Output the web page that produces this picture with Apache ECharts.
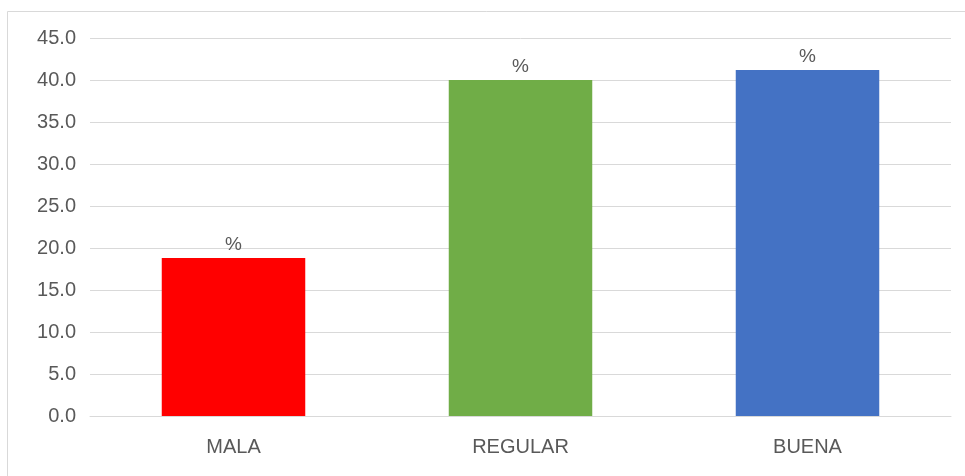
<!DOCTYPE html>
<html>
<head>
<meta charset="utf-8">
<script src="https://cdn.jsdelivr.net/npm/echarts@6/dist/echarts.min.js"></script>
<style>
html,body{margin:0;padding:0;background:#fff;}
#c{width:965px;height:476px;}
</style>
</head>
<body>
<div id="c"></div>
<script>
var categories = ['MALA', 'REGULAR', 'BUENA'];
var values = [18.8, 40.0, 41.2];
var barColors = ['#FF0000', '#70AD47', '#4472C4'];
var barLabel = '%';

var chart = echarts.init(document.getElementById('c'), null, {renderer: 'canvas'});
var font = '"Liberation Sans", "DejaVu Sans", sans-serif';
chart.setOption({
  animation: false,
  backgroundColor: '#ffffff',
  graphic: [{
    type: 'rect',
    shape: {x: 7.5, y: 11.5, width: 970, height: 480},
    style: {fill: 'none', stroke: '#d9d9d9', lineWidth: 1},
    silent: true
  }],
  grid: {left: 90, right: 14, top: 38, bottom: 60, containLabel: false},
  xAxis: {
    type: 'category',
    data: categories,
    axisLine: {show: true, lineStyle: {color: '#d9d9d9', width: 1}},
    axisTick: {show: false},
    axisLabel: {color: '#595959', fontSize: 20, fontFamily: font, margin: 21}
  },
  yAxis: {
    type: 'value',
    min: 0,
    max: 45,
    interval: 5,
    axisLine: {show: false},
    axisTick: {show: false},
    splitLine: {lineStyle: {color: '#d9d9d9', width: 1}},
    axisLabel: {
      color: '#595959', fontSize: 20, fontFamily: font, margin: 14,
      formatter: function (v) { return v.toFixed(1); }
    }
  },
  series: [{
    type: 'bar',
    barWidth: '50%',
    data: values.map(function (v, i) {
      return {value: v, itemStyle: {color: barColors[i]}};
    }),
    label: {
      show: true,
      position: 'top',
      distance: 4,
      formatter: function () { return barLabel; },
      color: '#595959',
      fontSize: 19,
      fontFamily: font
    }
  }]
});
</script>
</body>
</html>
